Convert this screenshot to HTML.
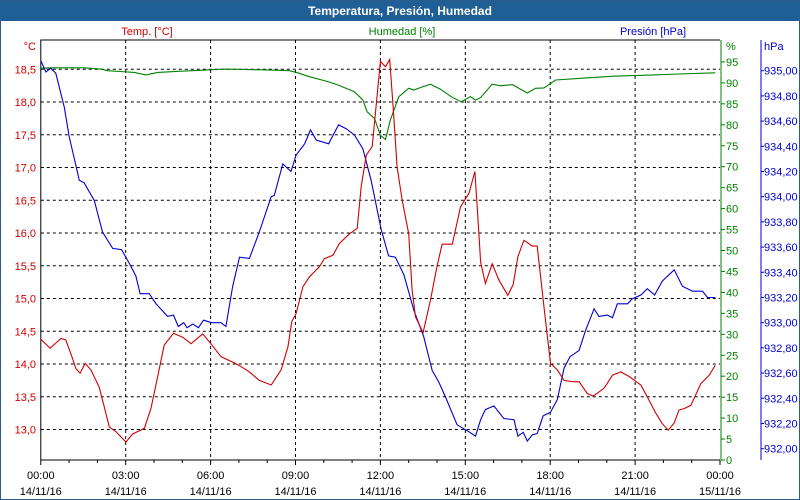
<!DOCTYPE html>
<html><head><meta charset="utf-8">
<style>
html,body{margin:0;padding:0;background:#fff;}
#wrap{position:relative;width:798px;height:498px;border:1px solid #2a5d8f;overflow:hidden;background:#fff;}
#title{position:absolute;left:0;top:0;width:798px;height:20px;background:#1f5f96;color:#fff;font:bold 12px "Liberation Sans",sans-serif;text-align:center;line-height:20px;}
svg{position:absolute;left:-1px;top:-1px;}
text{font-family:"Liberation Sans",sans-serif;font-size:11px;}
</style></head><body>
<div id="wrap">
<div id="title">Temperatura, Presión, Humedad</div>
<svg id="chart" width="800" height="500"></svg>
</div>
<script>
const xTickHours=[0,3,6,9,12,15,18,21,24];
const xTickTimes=["00:00","03:00","06:00","09:00","12:00","15:00","18:00","21:00","00:00"];
const xTickDates=["14/11/16","14/11/16","14/11/16","14/11/16","14/11/16","14/11/16","14/11/16","14/11/16","15/11/16"];
const tempTicks=[13.0,13.5,14.0,14.5,15.0,15.5,16.0,16.5,17.0,17.5,18.0,18.5];
const humTicks=[0,5,10,15,20,25,30,35,40,45,50,55,60,65,70,75,80,85,90,95];
const presTicks=[932.0,932.2,932.4,932.6,932.8,933.0,933.2,933.4,933.6,933.8,934.0,934.2,934.4,934.6,934.8,935.0];

const tempTimes=[0,0.33,0.71,0.88,1.06,1.24,1.39,1.57,1.77,2.06,2.24,2.42,2.65,3.01,3.24,3.66,3.89,4.13,4.36,4.69,5.01,5.31,5.72,6.01,6.37,6.78,7.08,7.37,7.72,8.14,8.49,8.73,8.87,9.02,9.26,9.49,9.85,10.02,10.32,10.55,10.91,11.18,11.32,11.5,11.71,12.0,12.18,12.33,12.45,12.59,12.77,13.0,13.12,13.24,13.51,13.77,14.0,14.18,14.54,14.83,15.13,15.34,15.48,15.54,15.71,15.95,16.19,16.5,16.69,16.86,17.07,17.37,17.54,17.78,18.01,18.25,18.49,18.78,19.02,19.31,19.52,19.9,20.2,20.49,20.79,21.2,21.43,21.73,21.96,22.17,22.38,22.55,22.73,22.97,23.32,23.62,23.83];
const tempValues=[14.38,14.24,14.39,14.37,14.16,13.93,13.86,14.01,13.91,13.65,13.35,13.04,12.97,12.81,12.93,13.02,13.32,13.81,14.29,14.47,14.41,14.31,14.46,14.31,14.11,14.03,13.96,13.88,13.75,13.68,13.91,14.26,14.65,14.77,15.18,15.33,15.49,15.61,15.66,15.84,15.99,16.07,16.71,17.19,17.32,18.62,18.54,18.65,17.93,17.01,16.50,15.99,15.13,14.72,14.48,14.98,15.49,15.83,15.83,16.40,16.61,16.94,15.99,15.56,15.23,15.53,15.28,15.05,15.21,15.64,15.89,15.80,15.80,14.87,14.01,13.91,13.75,13.73,13.73,13.55,13.51,13.63,13.83,13.88,13.81,13.68,13.50,13.25,13.09,12.99,13.10,13.30,13.32,13.37,13.70,13.83,13.98];

const humTimes=[0,0.41,1.53,2.12,2.36,3.30,3.71,4.13,4.95,5.90,6.49,8.02,8.79,9.08,9.43,10.14,10.50,11.08,11.38,11.53,11.79,12.0,12.18,12.35,12.65,13.0,13.18,13.42,13.77,14.12,14.48,14.85,15.18,15.36,15.54,15.95,16.25,16.66,17.19,17.48,17.78,18.19,19.08,20.25,21.67,22.02,23.83];
const humValues=[93.5,93.6,93.6,93.3,92.9,92.5,91.9,92.5,92.8,93.1,93.3,93.1,92.9,92.4,91.6,90.3,89.5,87.9,85.9,83.1,81.5,77.5,76.5,81.1,86.7,88.7,88.3,88.9,89.7,88.5,86.8,85.5,86.7,85.9,86.5,89.7,89.3,89.6,87.6,88.7,88.8,90.7,91.1,91.6,91.9,92.0,92.4];

const presTimes=[0,0.18,0.35,0.53,0.83,1.0,1.36,1.53,1.89,2.18,2.54,2.85,3.13,3.36,3.51,3.83,4.07,4.48,4.69,4.86,5.05,5.17,5.37,5.57,5.75,6.04,6.37,6.54,6.78,7.02,7.37,7.72,8.14,8.25,8.55,8.84,9.02,9.32,9.53,9.73,10.17,10.52,10.79,11.08,11.38,11.67,12.03,12.29,12.53,12.83,13.18,13.53,13.83,14.06,14.30,14.71,15.09,15.36,15.54,15.71,16.01,16.36,16.72,16.86,17.05,17.19,17.37,17.54,17.75,18.01,18.25,18.49,18.70,19.02,19.25,19.55,19.72,20.02,20.20,20.37,20.73,20.90,21.20,21.43,21.69,21.96,22.38,22.67,23.03,23.38,23.56,23.83];
const presValues=[935.08,934.99,935.02,934.98,934.71,934.48,934.13,934.11,933.97,933.72,933.59,933.58,933.47,933.37,933.23,933.23,933.15,933.05,933.06,932.97,933.0,932.96,932.99,932.96,933.02,933.0,933.0,932.97,933.29,933.52,933.51,933.72,934.0,934.01,934.26,934.2,934.33,934.42,934.53,934.45,934.42,934.57,934.54,934.49,934.38,934.13,933.74,933.53,933.52,933.38,933.10,932.89,932.62,932.53,932.41,932.19,932.14,932.10,932.23,932.31,932.34,932.24,932.23,932.10,932.13,932.06,932.11,932.12,932.26,932.29,932.39,932.64,932.73,932.78,932.94,933.11,933.05,933.06,933.04,933.15,933.15,933.19,933.22,933.27,933.22,933.33,933.42,933.29,933.25,933.25,933.20,933.20];

const L=40.8,R=720,T=40,B=460;
const xS=h=>L+h*(R-L)/24;
const yT=v=>69.3+(18.5-v)*65.5;
const yH=v=>460-v*4.19;
const yP=v=>70.7+(935-v)*126;
const svg=document.getElementById('chart');
const NS='http://www.w3.org/2000/svg';
function mk(tag,attrs,parent){const e=document.createElementNS(NS,tag);for(const k in attrs)e.setAttribute(k,attrs[k]);(parent||svg).appendChild(e);return e;}
function txt(s,x,y,color,anchor){const t=mk('text',{x:x,y:y,fill:color,'text-anchor':anchor||'start'});t.textContent=s;return t;}

// grid
const grid=mk('g',{});


tempTicks.forEach(v=>{const l=mk('line',{x1:L,x2:R,y1:yT(v),y2:yT(v),stroke:'#000','stroke-dasharray':'3,3','stroke-width':1},grid);

});
xTickHours.slice(1,-1).forEach(h=>{const l=mk('line',{x1:xS(h),x2:xS(h),y1:T,y2:B,stroke:'#000','stroke-dasharray':'3,3','stroke-width':1},grid);

});

// frame
const fr=mk('path',{d:`M${L},${B} L${L},${T} L${R},${T}`,fill:'none',stroke:'#000','stroke-width':1});


const xa=mk('line',{x1:L,x2:R,y1:B,y2:B,stroke:'#000'});


for(let h=0;h<=24;h++){mk('line',{x1:xS(h),x2:xS(h),y1:B,y2:B+(h%3===0?5:3),stroke:'#000'});}
xTickHours.forEach((h,i)=>{const a=txt(xTickTimes[i],xS(h),479,'#000','middle');


const b=txt(xTickDates[i],xS(h),495,'#000','middle');

});

// temp axis labels
tempTicks.forEach(v=>{const t=txt(v.toFixed(1).replace('.',','),36,yT(v)+4,'#d00000','end');

});
const tu=txt('°C',36,50,'#d00000','end');



// humidity axis
const ha=mk('line',{x1:721,x2:721,y1:T,y2:B,stroke:'#008000'});


humTicks.forEach(v=>{mk('line',{x1:721,x2:725,y1:yH(v),y2:yH(v),stroke:'#008000'});
const t=txt(String(v),726,yH(v)+4,'#008000');

});
const hu=txt('%',726,50,'#008000');



// pressure axis
const pa=mk('line',{x1:761,x2:761,y1:T,y2:B,stroke:'#0000d0'});


presTicks.forEach(v=>{mk('line',{x1:761,x2:764,y1:yP(v),y2:yP(v),stroke:'#0000d0'});
const t=txt(v.toFixed(2).replace('.',','),764,yP(v)+4,'#0000d0');

});
const pu=txt('hPa',764,50,'#0000d0');



// series titles
const s1=txt('Temp. [°C]',147,35,'#d00000','middle');


const s2=txt('Humedad [%]',402,35,'#008000','middle');


const s3=txt('Presión [hPa]',653,35,'#0000d0','middle');



function line(times,vals,yf,color,name){
  const d=times.map((t,i)=>(i?'L':'M')+xS(t).toFixed(1)+','+yf(vals[i]).toFixed(1)).join(' ');
  const p=mk('path',{d:d,fill:'none',stroke:color,'stroke-width':1.1});
  
  
}
line(humTimes,humValues,yH,'#008000','humidity-line');
line(presTimes,presValues,yP,'#0000d0','pressure-line');
line(tempTimes,tempValues,yT,'#d00000','temperature-line');
</script>
</body></html>
